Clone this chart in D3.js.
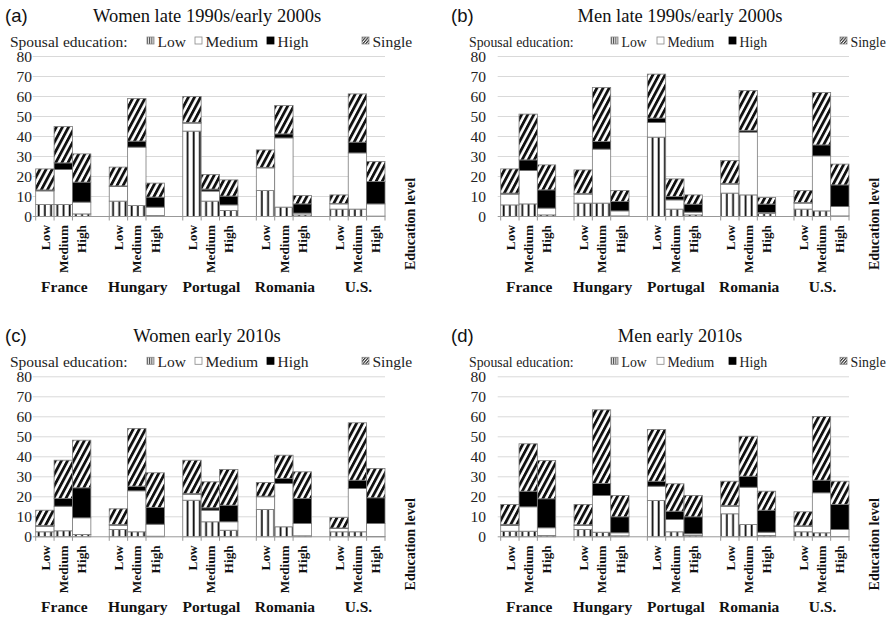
<!DOCTYPE html>
<html>
<head>
<meta charset="utf-8">
<script src="https://cdn.jsdelivr.net/npm/d3@7"></script>
<style>
  body { margin: 0; background: #fff; }
  svg { display: block; }
</style>
</head>
<body>
<div id="chart"></div>
<script>
// categories
const countries = ["France", "Hungary", "Portugal", "Romania", "U.S."];
const levels = ["Low", "Medium", "High"];
const seriesNames = ["Low", "Medium", "High", "Single"];
const yTicks = [0, 10, 20, 30, 40, 50, 60, 70, 80];
const panelTags = ["(a)", "(b)", "(c)", "(d)"];
const panelTitles = ["Women late 1990s/early 2000s", "Men late 1990s/early 2000s",
                     "Women early 2010s", "Men early 2010s"];

// values, order: France Low/Medium/High, Hungary ..., U.S. ...
const womenLateLow    = [6, 6, 1.3, 7.7, 5.5, 0.5, 42.7, 7.7, 3, 13, 4.7, 0.8, 3.7, 3.7, 0.2];
const womenLateMedium = [6.8, 17.5, 5.9, 7.3, 29.2, 4.2, 4, 5, 2.8, 11.3, 34.6, 0.9, 2.6, 28.1, 6.1];
const womenLateHigh   = [0.5, 3.3, 10, 0.3, 3, 5, 0.3, 1, 4.4, 0.3, 2, 4.6, 0.2, 5.4, 11.2];
const womenLateSingle = [10.5, 18.2, 14.1, 9.4, 21.3, 7, 13, 7.3, 8.1, 8.7, 14.2, 4.2, 4.3, 24.1, 10];

const menLateLow    = [5.8, 6.3, 0.8, 6.7, 6.7, 0.3, 39.7, 3.7, 0.8, 11.7, 10.8, 1.5, 3.7, 2.8, 0.3];
const menLateMedium = [5.4, 16.7, 3.4, 4.5, 27, 2.5, 7.3, 4.6, 1.4, 4.5, 31.4, 0.5, 3, 27.5, 4.7];
const menLateHigh   = [0.5, 5.3, 9.1, 0.3, 3.8, 4.7, 2.2, 1.7, 4, 0.3, 0.8, 4.2, 0.3, 5.5, 10.8];
const menLateSingle = [12.1, 22.9, 12.5, 11.8, 27, 5.5, 22, 8.8, 4.6, 11.5, 20, 3.3, 6, 26.2, 10.4];

const womenEarlyLow    = [2.5, 3, 1.2, 3.7, 2.5, 0.3, 18.3, 7.5, 3.3, 13.7, 5, 0.5, 2.5, 2.5, 0.2];
const womenEarlyMedium = [2.8, 12.3, 8.3, 2.1, 20.5, 6, 3, 5.8, 4.2, 6.3, 21.7, 6.2, 1.7, 21.7, 6.5];
const womenEarlyHigh   = [0.3, 3.9, 15, 0.3, 2.3, 8.4, 0.3, 1.2, 8.3, 0.3, 2.5, 12.5, 0.2, 4.1, 12.8];
const womenEarlySingle = [7.7, 19.1, 23.8, 7.9, 28.9, 17.3, 16.7, 13, 17.9, 6.9, 11.6, 13.3, 5.3, 28.7, 14.7];

const menEarlyLow    = [2.8, 2.8, 0.7, 3.7, 2.3, 0.5, 18.2, 2.5, 0.7, 11.5, 6.2, 0.7, 2.5, 2, 0.2];
const menEarlyMedium = [2.9, 12.2, 3.8, 2, 18.4, 1.5, 7.1, 6.2, 0.8, 3.8, 18.6, 1.6, 2.8, 20, 3.5];
const menEarlyHigh   = [0.5, 7.8, 14.5, 0.3, 6, 8, 2.5, 4.1, 8.5, 0.3, 5.5, 11, 0.2, 6.3, 12.5];
const menEarlySingle = [10, 23.7, 19.2, 10.2, 36.8, 10.7, 25.9, 13.7, 10.7, 12.2, 20, 9.5, 7, 31.9, 11.6];

const panelSeries = [
  [womenLateLow, womenLateMedium, womenLateHigh, womenLateSingle],
  [menLateLow, menLateMedium, menLateHigh, menLateSingle],
  [womenEarlyLow, womenEarlyMedium, womenEarlyHigh, womenEarlySingle],
  [menEarlyLow, menEarlyMedium, menEarlyHigh, menEarlySingle]
];

const width = 888, height = 620;
const serif = '"Liberation Serif", Tinos, "Times New Roman", serif';
const sans = '"Liberation Sans", Arimo, Arial, sans-serif';

const svg = d3.select('#chart').append('svg')
  .attr('width', width).attr('height', height);
svg.append('rect').attr('width', width).attr('height', height).attr('fill', '#fff');

// patterns
const defs = svg.append('defs');
const vs = defs.append('pattern').attr('id', 'vstripe')
  .attr('patternUnits', 'userSpaceOnUse').attr('width', 6.2).attr('height', 6);
vs.append('rect').attr('width', 6.2).attr('height', 6).attr('fill', '#fff');
vs.append('rect').attr('x', 0.6).attr('width', 1.8).attr('height', 6).attr('fill', '#111');

const hs = defs.append('pattern').attr('id', 'hatch')
  .attr('patternUnits', 'userSpaceOnUse').attr('width', 5.4).attr('height', 6)
  .attr('patternTransform', 'rotate(28)');
hs.append('rect').attr('width', 5.4).attr('height', 6).attr('fill', '#fff');
hs.append('rect').attr('width', 2.8).attr('height', 6).attr('fill', '#111');

const vsSmall = defs.append('pattern').attr('id', 'vstripe-s')
  .attr('patternUnits', 'userSpaceOnUse').attr('width', 2.2).attr('height', 4);
vsSmall.append('rect').attr('width', 2.2).attr('height', 4).attr('fill', '#fff');
vsSmall.append('rect').attr('width', 1).attr('height', 4).attr('fill', '#444');

const hsSmall = defs.append('pattern').attr('id', 'hatch-s')
  .attr('patternUnits', 'userSpaceOnUse').attr('width', 2.2).attr('height', 4)
  .attr('patternTransform', 'rotate(40)');
hsSmall.append('rect').attr('width', 2.2).attr('height', 4).attr('fill', '#fff');
hsSmall.append('rect').attr('width', 1.2).attr('height', 4).attr('fill', '#333');

const fills = {Low: 'url(#vstripe)', Medium: '#fff', High: '#000', Single: 'url(#hatch)'};
const swatch = {Low: 'url(#vstripe-s)', Medium: '#fff', High: '#000', Single: 'url(#hatch-s)'};

// layout per column / row
const columns = [
  {x0: 35.7, x1: 385, labelX: 32, tagX: 5, titleX: 207, spousalX: 10, legendFont: 15.5,
   legendX: [147, 195, 267, 362]},
  {x0: 500.7, x1: 849, labelX: 486, tagX: 451, titleX: 680, spousalX: 469, legendFont: 13.8,
   legendX: [611, 657, 729, 840]}
];
const rows = [0, 320.3];

panelTitles.forEach((title, p) => {
  const col = columns[p % 2];
  const dy = rows[Math.floor(p / 2)];
  const g = svg.append('g').attr('transform', `translate(0,${dy})`);

  const rowsData = [];
  countries.forEach((c, ci) => levels.forEach((l, li) => {
    const d = {country: c, level: l};
    seriesNames.forEach((s, si) => { d[s] = panelSeries[p][si][ci * 3 + li]; });
    rowsData.push(d);
  }));
  const stacked = d3.stack().keys(seriesNames)(rowsData);

  const x = d3.scaleBand().domain(countries).range([col.x0, col.x1])
    .paddingInner(0.25).paddingOuter(0);
  const xi = d3.scaleBand().domain(levels).range([0, x.bandwidth()]);
  const y = d3.scaleLinear().domain([0, 80]).range([216.5, 56.5]);

  // gridlines
  g.append('g').selectAll('line').data(yTicks.slice(1)).join('line')
    .attr('x1', col.x0 - 3).attr('x2', col.x1)
    .attr('y1', d => y(d)).attr('y2', d => y(d))
    .attr('stroke', '#d9d9d9').attr('stroke-width', 1);

  // y axis labels
  const yAxis = g.append('g').attr('transform', `translate(${col.labelX},0)`)
    .call(d3.axisLeft(y).tickValues(yTicks).tickSize(0).tickPadding(0));
  yAxis.select('.domain').remove();
  yAxis.selectAll('text').attr('font-family', serif).attr('font-size', 15.5).attr('fill', '#222');

  // bars
  g.append('g').selectAll('g').data(stacked).join('g')
    .attr('fill', d => fills[d.key])
    .selectAll('rect').data(d => d).join('rect')
    .attr('x', d => x(d.data.country) + xi(d.data.level))
    .attr('width', xi.bandwidth())
    .attr('y', d => y(d[1]))
    .attr('height', d => y(d[0]) - y(d[1]))
    .attr('stroke', '#7a7a7a').attr('stroke-width', 0.8);

  // baseline axis with ticks
  const base = g.append('g');
  base.append('line').attr('x1', col.x0 - 3).attr('x2', col.x1)
    .attr('y1', y(0)).attr('y2', y(0)).attr('stroke', '#999');
  const edges = [];
  countries.forEach(c => levels.forEach(l => edges.push(x(c) + xi(l))));
  edges.push(col.x1);
  base.selectAll('.tk').data(edges).join('line').attr('class', 'tk')
    .attr('x1', d => d).attr('x2', d => d)
    .attr('y1', y(0)).attr('y2', y(0) + 4).attr('stroke', '#999');

  // level labels
  g.append('g').selectAll('text').data(rowsData).join('text')
    .attr('transform', d => `translate(${x(d.country) + xi(d.level) + xi.bandwidth() / 2},${y(0) + 8.5}) rotate(-90)`)
    .attr('dy', '0.35em').attr('text-anchor', 'end')
    .attr('font-family', serif).attr('font-weight', 'bold').attr('font-size', 13.3)
    .attr('fill', '#111').text(d => d.level);

  // country labels
  g.append('g').selectAll('text').data(countries).join('text')
    .attr('x', d => x(d) + x.bandwidth() / 2 + 1).attr('y', 292)
    .attr('text-anchor', 'middle')
    .attr('font-family', serif).attr('font-weight', 'bold').attr('font-size', 15.5)
    .attr('fill', '#111').text(d => d);

  // education level
  g.append('text')
    .attr('transform', `translate(${col.x1 + 25.5},224) rotate(-90)`)
    .attr('dy', '0.35em').attr('text-anchor', 'middle')
    .attr('font-family', serif).attr('font-weight', 'bold').attr('font-size', 14)
    .attr('fill', '#111').text('Education level');

  // tag and title
  g.append('text').attr('x', col.tagX).attr('y', 22)
    .attr('font-family', sans).attr('font-size', 18.5).attr('fill', '#111').text(panelTags[p]);
  g.append('text').attr('x', col.titleX).attr('y', 21.5).attr('text-anchor', 'middle')
    .attr('font-family', serif).attr('font-size', 18.5).attr('fill', '#111').text(title);

  // legend
  g.append('text').attr('x', col.spousalX).attr('y', 46.5)
    .attr('font-family', serif).attr('font-size', col.legendFont).attr('fill', '#222')
    .text('Spousal education:');
  const lg = g.append('g').selectAll('g').data(seriesNames).join('g')
    .attr('transform', (d, i) => `translate(${col.legendX[i]},37)`);
  lg.append('rect').attr('width', 7).attr('height', 7)
    .attr('fill', d => swatch[d]).attr('stroke', d => d === 'High' ? '#000' : '#888').attr('stroke-width', 0.8);
  lg.append('text').attr('x', 10.5).attr('y', 9.5)
    .attr('font-family', serif).attr('font-size', col.legendFont).attr('fill', '#222').text(d => d);
});
</script>
</body>
</html>
